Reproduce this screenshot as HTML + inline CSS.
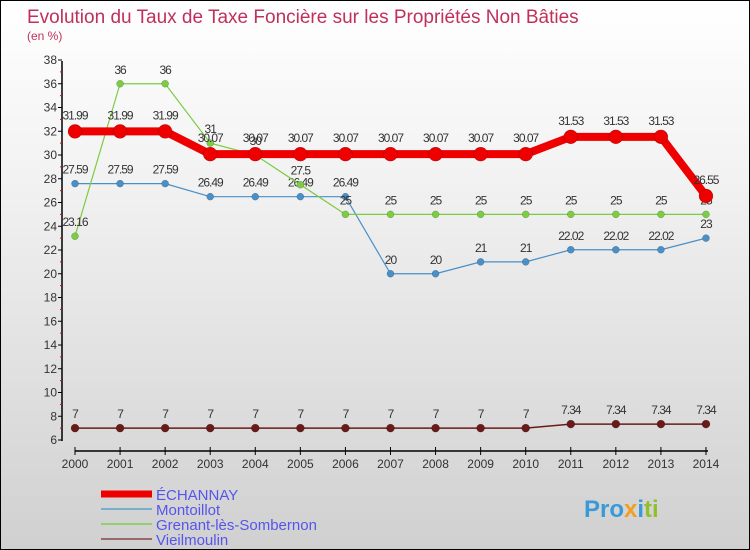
<!DOCTYPE html>
<html><head><meta charset="utf-8"><style>
body{margin:0}
#c{width:748px;height:548px;border:1px solid #000;background:linear-gradient(#fff,#f3f3f3 30%,#d0d0d0);position:relative;overflow:hidden;font-family:"Liberation Sans",sans-serif}
</style></head><body>
<div id="c">
<svg id="s" width="748" height="548" xmlns="http://www.w3.org/2000/svg">
<text x="26" y="22" font-size="19" fill="#c0305a">Evolution du Taux de Taxe Foncière sur les Propriétés Non Bâties</text>
<text x="26" y="39" font-size="12" fill="#c0305a">(en %)</text>
<g id="g"></g>
<text x="583" y="516" font-size="24" font-weight="bold"><tspan fill="#3a9ad9">Pro</tspan><tspan fill="#f0a020">x</tspan><tspan fill="#3a9ad9">i</tspan><tspan fill="#90c030">ti</tspan></text>
</svg>
</div>
<script>
const years=[2000,2001,2002,2003,2004,2005,2006,2007,2008,2009,2010,2011,2012,2013,2014];
const echannay=[31.99,31.99,31.99,30.07,30.07,30.07,30.07,30.07,30.07,30.07,30.07,31.53,31.53,31.53,26.55];
const montoillot=[27.59,27.59,27.59,26.49,26.49,26.49,26.49,20,20,21,21,22.02,22.02,22.02,23];
const grenant=[23.16,36,36,31,30,27.5,25,25,25,25,25,25,25,25,25];
const vieil=[7,7,7,7,7,7,7,7,7,7,7,7.34,7.34,7.34,7.34];
const yTicks=[6,8,10,12,14,16,18,20,22,24,26,28,30,32,34,36,38];
const NS='http://www.w3.org/2000/svg';
const g=document.getElementById('g');
const X=i=>74+i*45.07, Y=v=>439-(v-6)*11.875;
function el(t,a,p){const e=document.createElementNS(NS,t);for(const k in a)e.setAttribute(k,a[k]);(p||g).appendChild(e);return e;}
let ax=el('line',{x1:61,y1:60,x2:61,y2:440,stroke:'#000','stroke-width':1.5});


yTicks.forEach(v=>{
 const t=el('line',{x1:57,x2:61,y1:Y(v),y2:Y(v),stroke:'#000'});
 
 
 if(v<38)el('line',{x1:59,x2:61,y1:Y(v+1),y2:Y(v+1),stroke:'#e00'});
 const tx=el('text',{x:56,y:Y(v)+4,'font-size':12,'text-anchor':'end',fill:'#333'});tx.textContent=v;
 
 
});
let xa=el('line',{x1:74,y1:450,x2:707,y2:450,stroke:'#000','stroke-width':1.5});


years.forEach((y,i)=>{
 el('line',{x1:X(i),x2:X(i),y1:446,y2:454,stroke:'#000'});
 const t=el('text',{x:X(i),y:467,'font-size':12,'text-anchor':'middle',fill:'#333'});t.textContent=y;
 
 
});
function series(d,color,w,r,name,dy){
 const p=el('polyline',{points:d.map((v,i)=>X(i)+','+Y(v)).join(' '),fill:'none',stroke:color,'stroke-width':w,'stroke-linejoin':'round'});
 
 
 d.forEach((v,i)=>{
  const c=el('circle',{cx:X(i),cy:Y(v),r:r,fill:color,stroke:'rgba(0,0,0,0.3)','stroke-width':0.5});
  
  
  const t=el('text',{x:X(i),y:Y(v)-dy,'font-size':12,'text-anchor':'middle',fill:'#333','letter-spacing':'-1'});t.textContent=String(v);
  
  
 });
}
series(vieil,'#6b1a1a',1.5,4,'vieilmoulin',10);
series(montoillot,'#4a90c8',1.2,3.5,'montoillot',10);
series(grenant,'#7ccc44',1.2,3.5,'grenant',10);
series(echannay,'#ee0000',8,7,'echannay',12);
const leg=[['ÉCHANNAY','#ee0000',7],['Montoillot','#7aaed0',2],['Grenant-lès-Sombernon','#90d070',2],['Vieilmoulin','#9a6a6a',2]];
leg.forEach((l,i)=>{
 const y=493+i*15;
 const ln=el('line',{x1:100,x2:151,y1:y,y2:y,stroke:l[1],'stroke-width':l[2]});
 
 
 const t=el('text',{x:155,y:y+6,'font-size':15,fill:'#5555ee'});t.textContent=l[0];
 
 
});
</script>
</body></html>
